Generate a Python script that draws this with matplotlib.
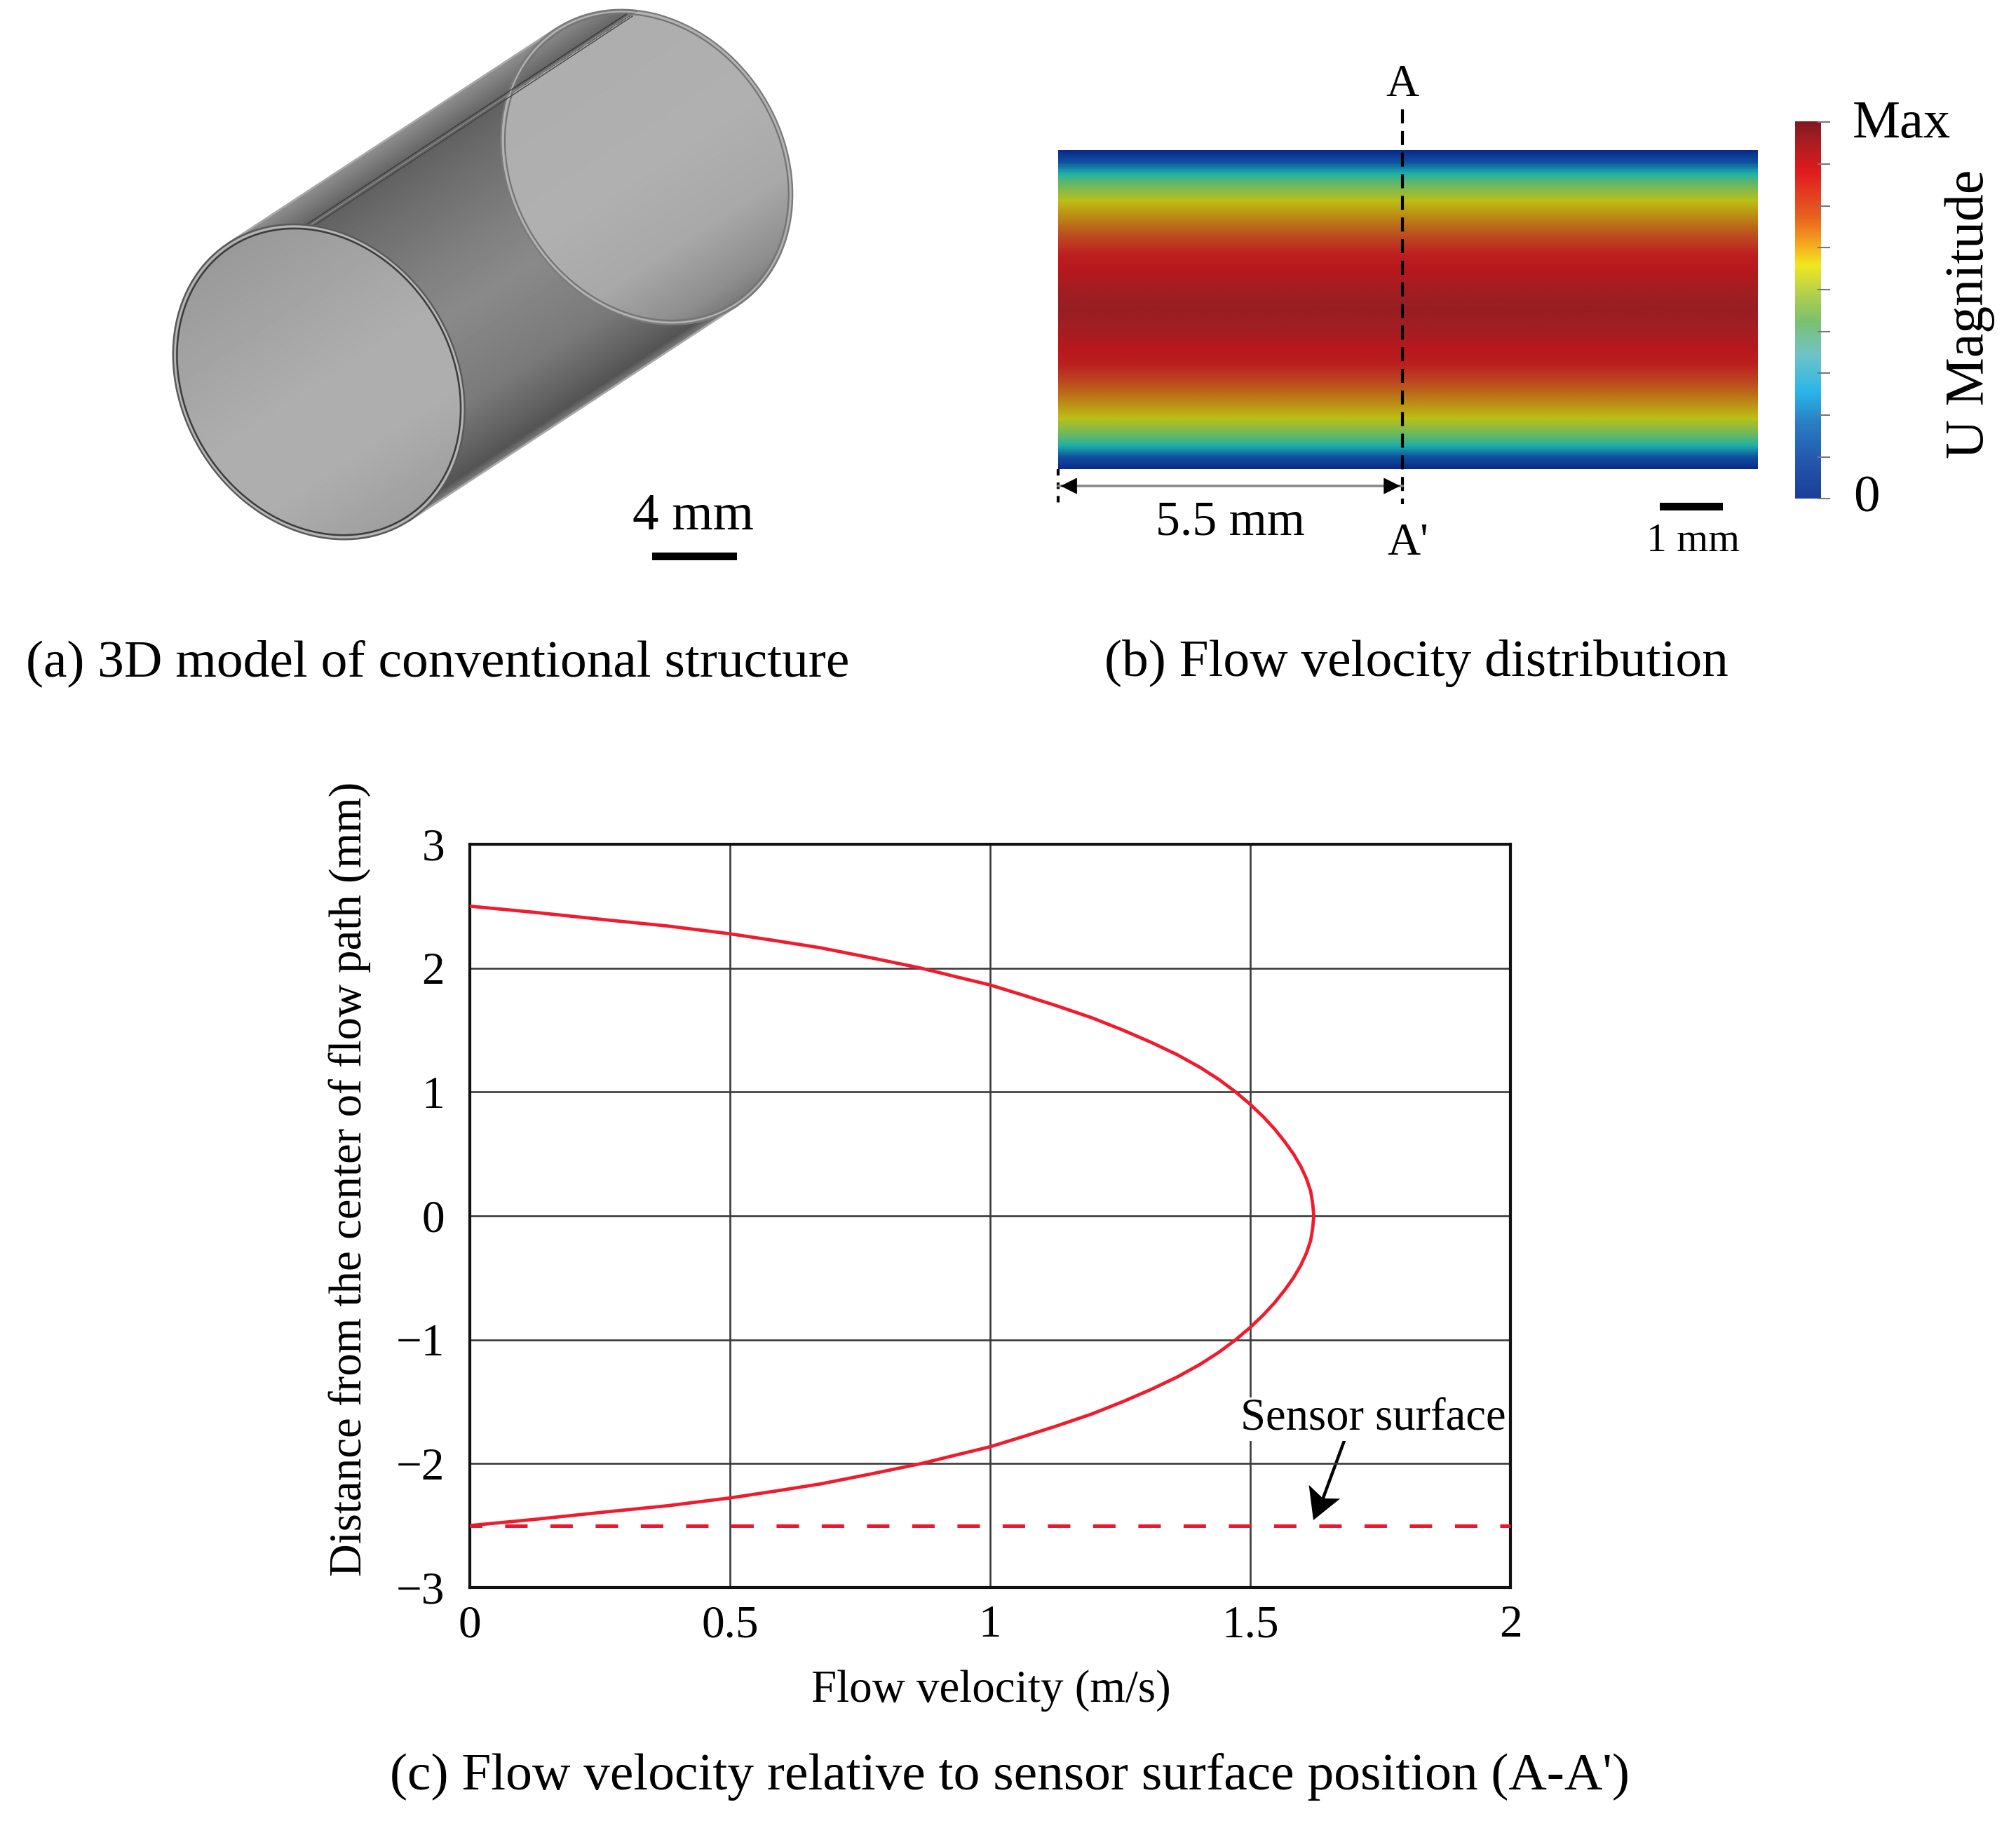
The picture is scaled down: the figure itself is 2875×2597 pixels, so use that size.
import numpy as np
import matplotlib
matplotlib.use('Agg')
import matplotlib.pyplot as plt
from matplotlib.colors import LinearSegmentedColormap
from matplotlib.patches import Polygon, Rectangle

plt.rcParams['font.family'] = ['Liberation Serif', 'DejaVu Serif']
plt.rcParams['axes.unicode_minus'] = True

# (c) flow velocity curve
dist_mm = [2.5, 2.45, 2.39, 2.34, 2.277, 2.22, 2.164, 2.08, 2.0, 1.93, 1.864, 1.78, 1.7, 1.6, 1.5, 1.4, 1.3, 1.2,
           1.1, 1.0, 0.9, 0.8, 0.7, 0.6, 0.5, 0.4, 0.3, 0.2, 0.1, 0.0,
           -0.1, -0.2, -0.3, -0.4, -0.5, -0.6, -0.7, -0.8, -0.9, -1.0, -1.1, -1.2,
           -1.3, -1.4, -1.5, -1.6, -1.7, -1.78, -1.864, -1.93, -2.0, -2.08, -2.164, -2.22, -2.277, -2.34, -2.39, -2.45, -2.5]
velocity = [0.0, 0.125, 0.261, 0.38, 0.5, 0.59, 0.674, 0.775, 0.867, 0.935, 1.0, 1.065, 1.125, 1.195, 1.255, 1.31, 1.36, 1.403,
            1.44, 1.472, 1.5, 1.525, 1.547, 1.566, 1.583, 1.597, 1.608, 1.616, 1.62, 1.622,
            1.62, 1.616, 1.608, 1.597, 1.583, 1.566, 1.547, 1.525, 1.5, 1.472, 1.44, 1.403,
            1.36, 1.31, 1.255, 1.195, 1.125, 1.065, 1.0, 0.935, 0.867, 0.775, 0.674, 0.59, 0.5, 0.38, 0.261, 0.125, 0.0]
sensor_y = -2.5
x_ticks = [0, 0.5, 1, 1.5, 2]
x_tick_labels = ['0', '0.5', '1', '1.5', '2']
y_ticks = [-3, -2, -1, 0, 1, 2, 3]
y_tick_labels = ['\u22123', '\u22122', '\u22121', '0', '1', '2', '3']

# (b) colour across the channel, top wall = 0, bottom wall = 1
field_pos = [0.0, 0.035, 0.07, 0.107, 0.157, 0.206, 0.27, 0.326, 0.37, 0.447, 0.5,
             0.553, 0.63, 0.674, 0.73, 0.794, 0.843, 0.893, 0.93, 0.965, 1.0]
field_cols = ['#0c2a8a', '#0f50a0', '#1cb0a8', '#6cb860', '#bcc016', '#bc8a14', '#bc4a20', '#bc2020', '#b8181e', '#a01e22', '#981e22',
              '#a01e22', '#b8181e', '#bc2020', '#bc4a20', '#bc8a14', '#bcc016', '#6cb860', '#1cb0a8', '#0f50a0', '#0c2a8a']
# colour bar from 0 to Max
bar_pos = [0.0, 0.1, 0.2, 0.28, 0.38, 0.47, 0.55, 0.62, 0.68, 0.75, 0.87, 0.95, 1.0]
bar_cols = ['#1b3f9a', '#2458ae', '#2a7fc4', '#29b5ea', '#6fc4c8', '#7cc070', '#b8d24a', '#f2e81f', '#f6a21e', '#e8601f',
            '#e01b1f', '#a81e22', '#7f1a1e']

# (a) grey level across the cylinder
body_t = [-1.0, -0.9, -0.82, -0.6, -0.2, 0.1, 0.6, 0.85, 0.95, 1.0]
body_grey = [0.56, 0.46, 0.38, 0.43, 0.50, 0.54, 0.48, 0.38, 0.33, 0.5]
front_t = [-1.0, -0.5, 0.0, 0.5, 1.0]
front_grey = [0.60, 0.64, 0.68, 0.68, 0.62]
back_t = [-0.82, 0.0, 0.5, 0.85, 1.0]
back_grey = [0.68, 0.69, 0.66, 0.56, 0.47]

W0, H0 = 1568.0, 1416.4
fig = plt.figure(figsize=(28.75, 25.97), dpi=100)
bg = fig.add_axes([0, 0, 1, 1])
bg.set_xlim(0, W0)
bg.set_ylim(H0, 0)
bg.axis('off')

# ---- (a) cylinder ----
front_c = np.array([248.0, 297.0])
back_c = np.array([503.0, 130.0])
ax_u = np.array([0.547, 0.837])
ax_v = np.array([0.836, -0.548])
ell_a, ell_b = 128.8, 106.3


def ellipse_pts(c, scale=1.0, start=0.0, stop=2 * np.pi):
    phi = np.linspace(start, stop, 300)
    return (c + scale * ell_a * np.outer(np.cos(phi), ax_u) + scale * ell_b * np.outer(np.sin(phi), ax_v))


gx, gy = np.meshgrid(np.linspace(120, 630, 1000), np.linspace(0, 430, 850))
t = ((gx - front_c[0]) * ax_u[0] + (gy - front_c[1]) * ax_u[1]) / ell_a
ext = (120, 630, 430, 0)

hull = np.vstack([ellipse_pts(back_c, 1, 0, np.pi), ellipse_pts(front_c, 1, np.pi, 2 * np.pi)])
im = bg.imshow(np.interp(t, body_t, body_grey), cmap='gray', vmin=0, vmax=1, extent=ext, aspect='auto', zorder=1)
im.set_clip_path(Polygon(hull, transform=bg.transData))

back_img = np.ma.masked_where(t < -0.82, np.interp(t, back_t, back_grey))
im = bg.imshow(back_img, cmap='gray', vmin=0, vmax=1, extent=ext, aspect='auto', zorder=2)
im.set_clip_path(Polygon(ellipse_pts(back_c), transform=bg.transData))

im = bg.imshow(np.interp(t, front_t, front_grey), cmap='gray', vmin=0, vmax=1, extent=ext, aspect='auto', zorder=3)
im.set_clip_path(Polygon(ellipse_pts(front_c), transform=bg.transData))

for scale, col, lw in [(1.0, '#7a7a7a', 1.6), (0.987, '#b4b4b4', 1.6), (0.973, '#747474', 1.6)]:
    p = ellipse_pts(back_c, scale)
    bg.plot(p[:, 0], p[:, 1], color=col, lw=lw, zorder=2.5)
for scale, col, lw in [(1.0, '#5a5a5a', 1.8), (0.987, '#b8b8b8', 1.6), (0.973, '#3c3c3c', 1.8)]:
    p = ellipse_pts(front_c, scale)
    bg.plot(p[:, 0], p[:, 1], color=col, lw=lw, zorder=4)

# ridge along the top of the tube and the two outer edges
for off, col in [(0.0, '#3a3a3a'), (2.5, '#8a8a8a'), (5.0, '#444444')]:
    bg.plot([237 + off, 487 + off], [175.5 + off * 0.3, 11 + off * 0.3], color=col, lw=1.0, zorder=2.7)
for sign in (-1, 1):
    e0 = front_c + sign * ell_a * ax_u
    e1 = back_c + sign * ell_a * ax_u
    bg.plot([e0[0], e1[0]], [e0[1], e1[1]], color='#a8a8a8', lw=2, zorder=1.5)

bg.text(539, 402, '4 mm', ha='center', va='center', fontsize=54)
bg.add_patch(Rectangle((507, 430), 66, 6, color='black', lw=0))

# ---- (b) flow field ----
field_cmap = LinearSegmentedColormap.from_list('field', list(zip(field_pos, field_cols)))
bar_cmap = LinearSegmentedColormap.from_list('bar', list(zip(bar_pos, bar_cols)))
bg.imshow(np.linspace(0, 1, 500).reshape(-1, 1), cmap=field_cmap, vmin=0, vmax=1,
          extent=(823, 1367, 365, 117), aspect='auto', zorder=1)
bg.imshow(np.linspace(1, 0, 500).reshape(-1, 1), cmap=bar_cmap, vmin=0, vmax=1,
          extent=(1396, 1416, 388, 95), aspect='auto', zorder=1)
for yt in np.linspace(95, 388, 10):
    bg.plot([1414, 1423], [yt, yt], color='#777777', lw=1.5, zorder=2)

bg.plot([1091, 1091], [85, 392], color='black', lw=3, ls=(0, (4.8, 2.6)), zorder=3)
bg.plot([823, 823], [365, 392], color='black', lw=3, ls=(0, (2.2, 2.4)), zorder=3)
bg.annotate('', xy=(1091, 378), xytext=(823, 378),
            arrowprops=dict(arrowstyle='-', color='#8a8a8a', lw=2.6, shrinkA=0, shrinkB=0))
for xtip, xback in [(825, 837), (1089, 1077)]:
    bg.annotate('', xy=(xtip, 378), xytext=(xback, 378),
                arrowprops=dict(arrowstyle='-|>,head_length=1,head_width=0.5', color='black', lw=0.5,
                                shrinkA=0, shrinkB=0, mutation_scale=16))

bg.text(1091, 66, 'A', ha='center', va='center', fontsize=47)
bg.text(1095, 423, "A'", ha='center', va='center', fontsize=47)
bg.text(957, 407, '5.5 mm', ha='center', va='center', fontsize=50)
bg.text(1317, 421, '1 mm', ha='center', va='center', fontsize=41.5)
bg.add_patch(Rectangle((1291, 391), 49, 6, color='black', lw=0))
bg.text(1479, 97, 'Max', ha='center', va='center', fontsize=55)
bg.text(1452, 388, '0', ha='center', va='center', fontsize=54)
bg.text(1532, 244, 'U Magnitude', ha='center', va='center', rotation=90, fontsize=56)

# captions
bg.text(20, 516, '(a) 3D model of conventional structure', ha='left', va='center', fontsize=54.3)
bg.text(859, 516, '(b) Flow velocity distribution', ha='left', va='center', fontsize=54.3)
bg.text(303, 1382, "(c) Flow velocity relative to sensor surface position (A-A')", ha='left', va='center', fontsize=54.3)

# ---- (c) velocity chart ----
px_left, px_right, px_top, px_bottom = 670, 2154, 1204, 2264
ax = fig.add_axes([px_left / 2875, 1 - px_bottom / 2597, (px_right - px_left) / 2875, (px_bottom - px_top) / 2597])
ax.patch.set_alpha(0)
ax.set_xlim(0, 2)
ax.set_ylim(-3, 3)
ax.set_xticks(x_ticks)
ax.set_xticklabels(x_tick_labels, fontsize=47)
ax.set_yticks(y_ticks)
ax.set_yticklabels(y_tick_labels, fontsize=47)
ax.tick_params(axis='x', length=0, pad=18)
ax.tick_params(axis='y', length=0, pad=26)
ax.grid(True, color='#3a3a3a', lw=1.9)
ax.set_axisbelow(True)
for s in ax.spines.values():
    s.set_linewidth(3)
    s.set_color('#111111')

ax.plot(velocity, dist_mm, color='#ee1c2e', lw=3.4, zorder=3)
ax.plot([x_ticks[0], x_ticks[-1]], [sensor_y, sensor_y], color='#e8182f', lw=3.6, ls=(14.6 * 0.72 / 3.6, (6.4, 6.5)),
        zorder=3, clip_on=False)
bg.text(771, 1315, 'Flow velocity (m/s)', ha='center', va='center', fontsize=46.8)
bg.text(272, 917, 'Distance from the center of flow path (mm)', ha='center', va='center', rotation=90, fontsize=46.7)

ax.text(1.736, -1.64, 'Sensor surface', ha='center', va='center', fontsize=46.5, zorder=4,
        bbox=dict(facecolor='white', edgecolor='none', pad=1))
# arrow shaft and its notched head
bg.plot([1046.5, 1029], [1118, 1165.5], color='black', lw=3.2, zorder=5)
bg.add_patch(Polygon([(1021.5, 1182.4), (1018, 1155), (1029, 1165.5), (1042.3, 1165.7)], closed=True,
                     facecolor='black', edgecolor='none', zorder=5))

fig.savefig('out.png', dpi=100, facecolor='white')
